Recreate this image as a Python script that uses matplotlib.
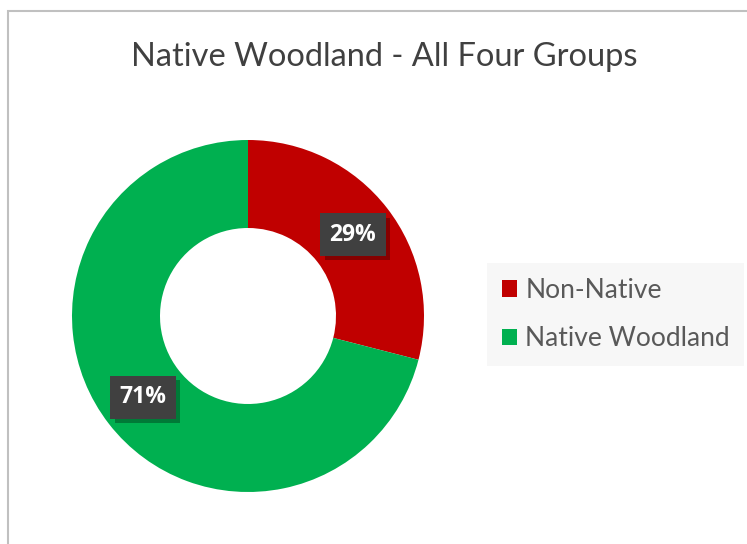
import matplotlib.pyplot as plt
import matplotlib.patheffects as pe
from matplotlib.patches import Rectangle

labels = ['Non-Native', 'Native Woodland']
shares = [29, 71]
colors = ['#c00000', '#00b050']

plt.rcParams['font.family'] = ['Lato', 'DejaVu Sans']

fig = plt.figure(figsize=(7.47, 5.44), dpi=100)
ax = fig.add_axes([0, 0, 1, 1])

# frame of the chart area (only left and top edges visible)
ax.add_patch(Rectangle((7.5, -20), 800, 544 - 10.5 + 20, fill=False,
                       edgecolor='#c0c0c0', linewidth=1.5))

wedges, texts, autotexts = ax.pie(
    shares, colors=colors, startangle=90, counterclock=False,
    center=(248, 228), radius=176, frame=True,
    wedgeprops=dict(width=88, linewidth=0),
    autopct='%d%%', pctdistance=0.755,
    textprops=dict(color='white', fontsize=16.5, fontweight='bold',
                   family=['Open Sans', 'DejaVu Sans']))
ax.set_xlim(0, 747)
ax.set_ylim(0, 544)
ax.set_aspect('equal')
ax.axis('off')

for t in autotexts:
    t.set_bbox(dict(boxstyle='square,pad=0.4', facecolor='#404040',
                    edgecolor='none'))
    t.get_bbox_patch().set_path_effects(
        [pe.withSimplePatchShadow(offset=(3, -3), shadow_rgbFace='black',
                                  alpha=0.3), pe.Normal()])
    t.set_zorder(5)

ax.text(384, 544 - 57, 'Native Woodland - All Four Groups', ha='center',
        va='center', fontsize=23.5, color='#404040')

leg = ax.legend(wedges, labels, loc='upper left',
                bbox_to_anchor=(487 / 747, 1 - 263 / 544),
                frameon=True, facecolor='#f7f7f7', edgecolor='none',
                fancybox=False, framealpha=1, fontsize=19,
                handlelength=0.6, handleheight=0.6, handletextpad=0.3,
                labelspacing=0.9, borderpad=0.55, borderaxespad=0)
for txt in leg.get_texts():
    txt.set_color('#595959')

fig.savefig('out.png', dpi=100)
